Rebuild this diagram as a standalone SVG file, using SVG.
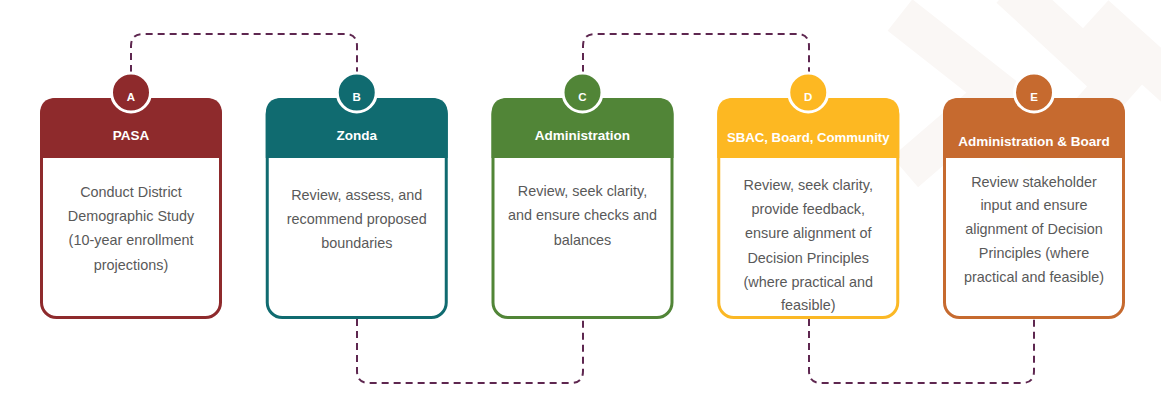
<svg xmlns="http://www.w3.org/2000/svg" width="1161" height="412" viewBox="0 0 1161 412">
<style>
.wm{fill:none;stroke:#FAF7F5;stroke-width:40;stroke-linejoin:miter}
.conn{fill:none;stroke:#5E2750;stroke-width:2;stroke-dasharray:7 5}
.body{fill:#FFFFFF;fill-opacity:0.9;stroke-width:3}
.ttl{font-family:"Liberation Sans",Arial,sans-serif;font-weight:bold;font-size:13.5px;fill:#FFFFFF;text-anchor:middle}
.let{font-family:"Liberation Sans",Arial,sans-serif;font-weight:bold;font-size:11.5px;fill:#FFFFFF;text-anchor:middle}
.txt{font-family:"Liberation Sans",Arial,sans-serif;font-size:14.4px;fill:#595959;text-anchor:middle}
.ring{stroke:#FFFFFF;stroke-width:3}
</style>
<rect width="1161" height="412" fill="#FFFFFF"/>
<g id="watermark">
<polyline class="wm" points="900,15 998,92 905,172"/>
<polyline class="wm" points="1010,-12 1115,85 1035,175"/>
<polyline class="wm" points="1095,15 1200,110"/>
</g>
<g id="connectors">
<path class="conn" d="M131,72 V46 Q131,34 143,34 H345 Q357,34 357,46 V72"/>
<path class="conn" d="M357,319 V371 Q357,383 369,383 H571 Q583,383 583,371 V319"/>
<path class="conn" d="M583,72 V46 Q583,34 595,34 H797 Q809,34 809,46 V72"/>
<path class="conn" d="M809,319 V371 Q809,383 821,383 H1022 Q1034,383 1034,371 V319"/>
</g>
<g id="node-A">
<rect class="body" x="41.5" y="99.5" width="179" height="218" rx="15" stroke="#8E2A2C"/>
<path d="M40,158 V114 Q40,98 56,98 H206 Q222,98 222,114 V158 Z" fill="#8E2A2C"/>
<circle class="ring" cx="131" cy="92.5" r="19.5" fill="#8E2A2C"/>
<text class="let" x="131" y="101">A</text>
<text class="ttl" x="131" y="140">PASA</text>
<text class="txt" x="131" y="196.5">Conduct District</text>
<text class="txt" x="131" y="221">Demographic Study</text>
<text class="txt" x="131" y="245">(10-year enrollment</text>
<text class="txt" x="131" y="269.5">projections)</text>
</g>
<g id="node-B">
<rect class="body" x="267.25" y="99.5" width="179" height="218" rx="15" stroke="#106B70"/>
<path d="M265.75,158 V114 Q265.75,98 281.75,98 H431.75 Q447.75,98 447.75,114 V158 Z" fill="#106B70"/>
<circle class="ring" cx="356.75" cy="92.5" r="19.5" fill="#106B70"/>
<text class="let" x="356.75" y="101">B</text>
<text class="ttl" x="356.75" y="140">Zonda</text>
<text class="txt" x="356.75" y="200">Review, assess, and</text>
<text class="txt" x="356.75" y="224">recommend proposed</text>
<text class="txt" x="356.75" y="248">boundaries</text>
</g>
<g id="node-C">
<rect class="body" x="493" y="99.5" width="179" height="218" rx="15" stroke="#518537"/>
<path d="M491.5,158 V114 Q491.5,98 507.5,98 H657.5 Q673.5,98 673.5,114 V158 Z" fill="#518537"/>
<circle class="ring" cx="582.5" cy="92.5" r="19.5" fill="#518537"/>
<text class="let" x="582.5" y="101">C</text>
<text class="ttl" x="582.5" y="140">Administration</text>
<text class="txt" x="582.5" y="196">Review, seek clarity,</text>
<text class="txt" x="582.5" y="220">and ensure checks and</text>
<text class="txt" x="582.5" y="245">balances</text>
</g>
<g id="node-D">
<rect class="body" x="718.75" y="99.5" width="179" height="218" rx="15" stroke="#FBB825"/>
<path d="M717.25,158 V114 Q717.25,98 733.25,98 H883.25 Q899.25,98 899.25,114 V158 Z" fill="#FDB822"/>
<circle class="ring" cx="808.25" cy="92.5" r="19.5" fill="#FDB822"/>
<text class="let" x="808.25" y="101">D</text>
<text class="ttl" x="808.25" y="142" style="font-size:13.2px">SBAC, Board, Community</text>
<text class="txt" x="808.25" y="190">Review, seek clarity,</text>
<text class="txt" x="808.25" y="214">provide feedback,</text>
<text class="txt" x="808.25" y="238">ensure alignment of</text>
<text class="txt" x="808.25" y="262.5">Decision Principles</text>
<text class="txt" x="808.25" y="286.5">(where practical and</text>
<text class="txt" x="808.25" y="310">feasible)</text>
</g>
<g id="node-E">
<rect class="body" x="944.5" y="99.5" width="179" height="218" rx="15" stroke="#C66A2F"/>
<path d="M943,158 V114 Q943,98 959,98 H1109 Q1125,98 1125,114 V158 Z" fill="#C66A2F"/>
<circle class="ring" cx="1034" cy="92.5" r="19.5" fill="#C66A2F"/>
<text class="let" x="1034" y="101">E</text>
<text class="ttl" x="1034" y="146">Administration &amp; Board</text>
<text class="txt" x="1034" y="186.5">Review stakeholder</text>
<text class="txt" x="1034" y="210">input and ensure</text>
<text class="txt" x="1034" y="234">alignment of Decision</text>
<text class="txt" x="1034" y="258">Principles (where</text>
<text class="txt" x="1034" y="282">practical and feasible)</text>
</g>
</svg>
